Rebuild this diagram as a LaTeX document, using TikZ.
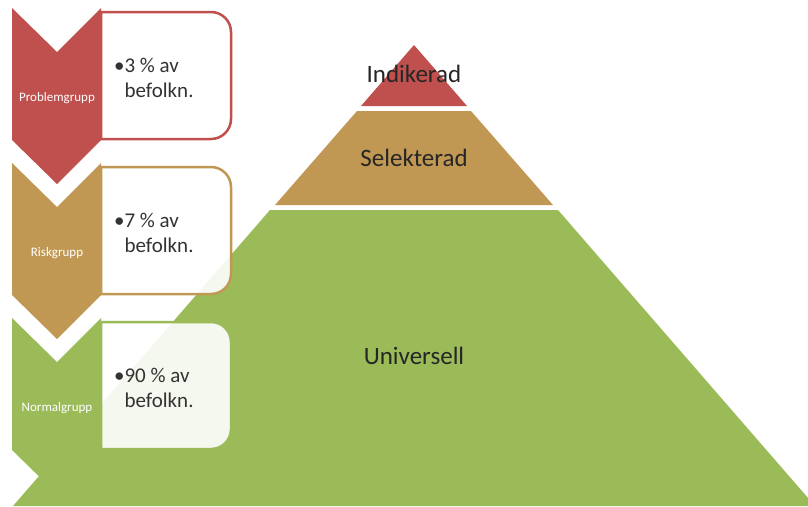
\documentclass[tikz,border=0pt]{standalone}
\usepackage{fontspec}
\setmainfont{Carlito}
\definecolor{probred}{RGB}{192,80,77}
\definecolor{risktan}{RGB}{192,152,83}
\definecolor{normgreen}{RGB}{155,187,89}

\begin{document}
\begin{tikzpicture}[x=1pt, y=-1pt,
    tier/.style={font=\fontsize{25}{30}\selectfont, text=black!85},
    grouplabel/.style={font=\fontsize{13}{15}\selectfont, text=white},
    sharetext/.style={anchor=north west, align=left, text=black!80,
      font=\fontsize{21}{25}\selectfont},
    sharebox/.style={line width=2.5pt, fill=white, fill opacity=0.9}]
  \useasboundingbox (0,0) rectangle (808,506);

  % Pyramid (apex at 414,45)
  \begin{scope}
    \clip (0,0) rectangle (808,506);
    \fill[normgreen] (270,210) -- (558,210) -- (815,506) -- (13,506) -- cycle;
    \fill[risktan] (357,111) -- (471,111) -- (553,205) -- (275,205) -- cycle;
    \fill[probred] (414,45) -- (467,106) -- (361,106) -- cycle;
  \end{scope}
  \node[tier] (indikerad) at (414,74) {Indikerad};
  \node[tier] (selekterad) at (414,158) {Selekterad};
  \node[tier] (universell) at (414,356) {Universell};

  % Groups: chevron + share box
  \foreach \t/\col/\grp/\pct in {8/probred/Problemgrupp/3,
      163/risktan/Riskgrupp/7, 318/normgreen/Normalgrupp/90} {
    \fill[\col] (12,\t) -- (57,\t+44) -- (101,\t) -- (101,\t+132)
      -- (57,\t+176) -- (12,\t+132) -- cycle;
    \node[grouplabel] (grp-\pct) at (57,\t+90) {\grp};
    \draw[sharebox, draw=\col] (101,\t+131) -- (101,\t+4)
      [rounded corners=20] -- (231,\t+4) -- (231,\t+131)
      [sharp corners] -- cycle;
    \node[sharetext] (pct-\pct) at (121,\t+47)
      {\llap{\textbullet}\pct~\% av\\befolkn.};
  }
\end{tikzpicture}
\end{document}
